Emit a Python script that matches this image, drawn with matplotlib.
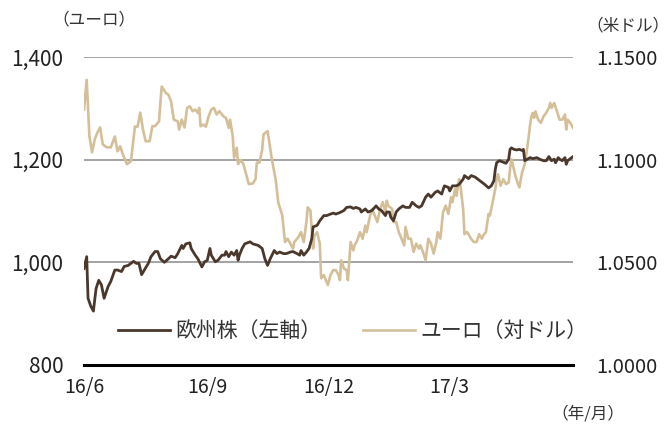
import numpy as np
import pandas as pd
import matplotlib
matplotlib.use("Agg")
import matplotlib.pyplot as plt
from matplotlib.ticker import FuncFormatter

plt.rcParams["font.family"] = ["Noto Sans CJK JP", "DejaVu Sans"]

# data (days since 2016-06-01)
start = pd.Timestamp("2016-06-01")

stock_days = [0, 2, 3, 5, 7, 9, 11, 13, 15, 18, 20, 23, 25, 28, 30, 33, 37, 39, 41, 43,
              45, 48, 50, 53, 55, 57, 60, 63, 65, 68, 70, 73, 74, 76, 79, 80, 83, 85, 88, 90,
              92, 94, 95, 98, 100, 103, 105, 106, 108, 110, 112, 114, 115, 116, 118, 120, 124, 126, 130, 133,
              135, 137, 139, 142, 144, 146, 149, 151, 154, 156, 159, 161, 162, 164, 166, 168, 170, 171, 174, 176,
              179, 181, 184, 186, 188, 191, 194, 196, 199, 201, 203, 206, 207, 210, 212, 215, 218, 220, 222, 225,
              226, 228, 229, 231, 233, 235, 238, 240, 243, 245, 248, 250, 252, 255, 257, 259, 262, 264, 267, 269,
              272, 273, 275, 278, 280, 283, 284, 287, 289, 292, 294, 297, 299, 302, 304, 306, 307, 308, 310, 312,
              315, 317, 318, 319, 321, 323, 325, 327, 328, 329, 331, 333, 335, 338, 340, 343, 345, 347, 349, 351,
              352, 354, 355, 357, 359, 360, 361, 363, 365]
stock_vals = [988, 1011, 930, 915, 905, 949, 965, 956, 930, 953, 963, 985, 985, 982, 992, 994, 1002, 998, 998, 976,
              985, 998, 1011, 1021, 1021, 1007, 1000, 1007, 1012, 1009, 1017, 1033, 1027, 1036, 1038, 1027, 1014, 1007, 991, 1001,
              1004, 1027, 1014, 1001, 1004, 1014, 1014, 1021, 1011, 1020, 1014, 1023, 1004, 1014, 1027, 1036, 1040, 1036, 1033, 1027,
              1007, 994, 1007, 1023, 1017, 1020, 1017, 1017, 1020, 1021, 1017, 1014, 1023, 1014, 1020, 1027, 1046, 1069, 1072, 1081,
              1091, 1091, 1094, 1096, 1094, 1097, 1101, 1107, 1108, 1105, 1107, 1104, 1098, 1104, 1098, 1101, 1110, 1104, 1101, 1091,
              1098, 1098, 1088, 1081, 1098, 1104, 1110, 1107, 1107, 1117, 1110, 1107, 1110, 1127, 1133, 1127, 1136, 1139, 1133, 1149,
              1146, 1139, 1149, 1149, 1152, 1162, 1169, 1163, 1169, 1166, 1162, 1156, 1152, 1145, 1149, 1159, 1181, 1194, 1198, 1196,
              1193, 1201, 1220, 1223, 1220, 1219, 1220, 1218, 1220, 1198, 1201, 1204, 1202, 1204, 1201, 1198, 1198, 1206, 1198, 1201,
              1194, 1204, 1201, 1198, 1204, 1191, 1198, 1202, 1206]

eur_days = [0, 2, 4, 6, 8, 10, 12, 14, 17, 20, 23, 25, 27, 29, 32, 35, 38, 40, 42, 44,
            46, 49, 51, 53, 56, 57, 58, 61, 63, 65, 67, 70, 71, 73, 75, 77, 79, 81, 83, 85,
            86, 87, 89, 91, 93, 95, 97, 99, 101, 104, 106, 108, 109, 110, 111, 112, 114, 115, 117, 119,
            121, 123, 126, 128, 129, 131, 133, 134, 137, 138, 140, 143, 145, 148, 150, 152, 154, 156, 157, 160,
            162, 164, 166, 167, 169, 171, 172, 174, 176, 177, 179, 181, 182, 184, 186, 188, 190, 191, 192, 194,
            196, 197, 199, 201, 202, 204, 206, 208, 210, 211, 213, 215, 217, 219, 221, 223, 225, 226, 227, 230,
            231, 233, 234, 235, 237, 239, 240, 242, 244, 246, 248, 250, 251, 253, 255, 257, 259, 261, 263, 264,
            266, 268, 270, 272, 274, 275, 277, 278, 280, 281, 283, 284, 286, 287, 289, 291, 293, 295, 297, 298,
            300, 302, 303, 305, 307, 308, 309, 311, 313, 315, 317, 318, 319, 320, 322, 324, 325, 327, 329, 330,
            332, 333, 334, 335, 336, 337, 339, 341, 343, 345, 347, 348, 349, 351, 353, 355, 357, 359, 360, 361,
            363, 365]
eur_vals = [1.1244, 1.1389, 1.1115, 1.1036, 1.1099, 1.1132, 1.1157, 1.1074, 1.1060, 1.1060, 1.1113, 1.1041, 1.1065, 1.1026, 1.0978, 1.0992, 1.1161, 1.1161, 1.1229, 1.1147,
            1.1090, 1.1090, 1.1163, 1.1163, 1.1187, 1.1278, 1.1356, 1.1326, 1.1316, 1.1284, 1.1195, 1.1186, 1.1147, 1.1195, 1.1157, 1.1252, 1.1260, 1.1236, 1.1244, 1.1228,
            1.1252, 1.1163, 1.1171, 1.1161, 1.1211, 1.1244, 1.1252, 1.1220, 1.1236, 1.1211, 1.1204, 1.1155, 1.1195, 1.1155, 1.1115, 1.1010, 1.1058, 1.0978, 1.0999, 1.0978,
            1.0929, 1.0881, 1.0884, 1.0905, 1.0986, 1.0986, 1.1050, 1.1123, 1.1139, 1.1099, 1.1010, 1.0905, 1.0792, 1.0728, 1.0599, 1.0615, 1.0591, 1.0567, 1.0599, 1.0623,
            1.0647, 1.0599, 1.0696, 1.0768, 1.0752, 1.0567, 1.0631, 1.0647, 1.0591, 1.0422, 1.0438, 1.0406, 1.0389, 1.0438, 1.0462, 1.0462, 1.0438, 1.0413, 1.0510, 1.0470,
            1.0462, 1.0413, 1.0599, 1.0558, 1.0583, 1.0607, 1.0647, 1.0615, 1.0679, 1.0647, 1.0712, 1.0760, 1.0728, 1.0696, 1.0760, 1.0793, 1.0744, 1.0800, 1.0776, 1.0760,
            1.0696, 1.0696, 1.0672, 1.0647, 1.0615, 1.0583, 1.0672, 1.0615, 1.0615, 1.0551, 1.0591, 1.0567, 1.0583, 1.0551, 1.0510, 1.0615, 1.0591, 1.0543, 1.0599, 1.0647,
            1.0615, 1.0744, 1.0776, 1.0736, 1.0817, 1.0793, 1.0857, 1.0824, 1.0905, 1.0873, 1.0760, 1.0637, 1.0647, 1.0637, 1.0614, 1.0599, 1.0599, 1.0637, 1.0615, 1.0631,
            1.0647, 1.0736, 1.0728, 1.0793, 1.0857, 1.0905, 1.0929, 1.0873, 1.0905, 1.0881, 1.0889, 1.0954, 1.1002, 1.0978, 1.0921, 1.0881, 1.0865, 1.0938, 1.0978, 1.1018,
            1.1115, 1.1171, 1.1211, 1.1228, 1.1204, 1.1235, 1.1195, 1.1179, 1.1211, 1.1228, 1.1252, 1.1276, 1.1252, 1.1276, 1.1235, 1.1195, 1.1195, 1.1220, 1.1147, 1.1195,
            1.1179, 1.1155]

tick_dates = ["2016-06-01", "2016-09-01", "2016-12-01", "2017-03-01"]
tick_labels = ["16/6", "16/9", "16/12", "17/3"]

stock_dates = start + pd.to_timedelta(stock_days, unit="D")
eur_dates = start + pd.to_timedelta(eur_days, unit="D")

dark = "#4a382c"
tan = "#d4bf99"

fig = plt.figure(figsize=(6.70, 4.28), dpi=100)
ax = fig.add_axes([0.1254, 0.1472, 0.7298, 0.7196])
ax2 = ax.twinx()
ax.set_zorder(ax2.get_zorder() + 1)
ax.patch.set_visible(False)

# grid on the lower (right) axis so both lines sit above it
for v in [1.05, 1.10, 1.15]:
    ax2.axhline(v, color="#8a8a8a", lw=1.1, zorder=0)

l2, = ax2.plot(eur_dates, eur_vals, color=tan, lw=1.9, zorder=2, label="ユーロ（対ドル）")
l1, = ax.plot(stock_dates, stock_vals, color=dark, lw=2.0, zorder=3, label="欧州株（左軸）")

xmin, xmax = pd.Timestamp("2016-06-01"), pd.Timestamp("2017-06-01")
ax.set_xlim(xmin, xmax)
ax.set_ylim(800, 1400)
ax2.set_ylim(1.0, 1.15)

ax.set_yticks([800, 1000, 1200, 1400])
ax.yaxis.set_major_formatter(FuncFormatter(lambda v, p: f"{v:,.0f}"))
ax2.set_yticks([1.0, 1.05, 1.10, 1.15])
ax2.yaxis.set_major_formatter(FuncFormatter(lambda v, p: f"{v:.4f}"))
ax.set_xticks(pd.to_datetime(tick_dates))
ax.set_xticklabels(tick_labels)

for a in (ax, ax2):
    for s in a.spines.values():
        s.set_visible(False)
ax.spines["bottom"].set_visible(True)
ax.spines["bottom"].set_color("black")
ax.spines["bottom"].set_linewidth(2.2)

ax.tick_params(axis="y", length=0, pad=15, labelsize=15, colors="#222222")
ax2.tick_params(axis="y", length=0, pad=17, labelsize=14.5, colors="#222222")
ax.tick_params(axis="x", length=0, pad=9, labelsize=14, colors="#222222")

fig.text(94 / 670, 1 - 20 / 428, "（ユーロ）", ha="center", va="center", fontsize=12, color="#333333")
fig.text(669 / 670, 1 - 26 / 428, "（米ドル）", ha="right", va="center", fontsize=12, color="#333333")
fig.text(588 / 670, 1 - 414 / 428, "（年/月）", ha="center", va="center", fontsize=12, color="#333333")

ax.legend(handles=[l1, l2], loc="center", bbox_to_anchor=(0.55, 0.11), ncol=2, frameon=False,
          fontsize=15, handlelength=2.5, handletextpad=0.25, columnspacing=2.0,
          labelcolor="#333333")

fig.savefig("out.png", dpi=100)
